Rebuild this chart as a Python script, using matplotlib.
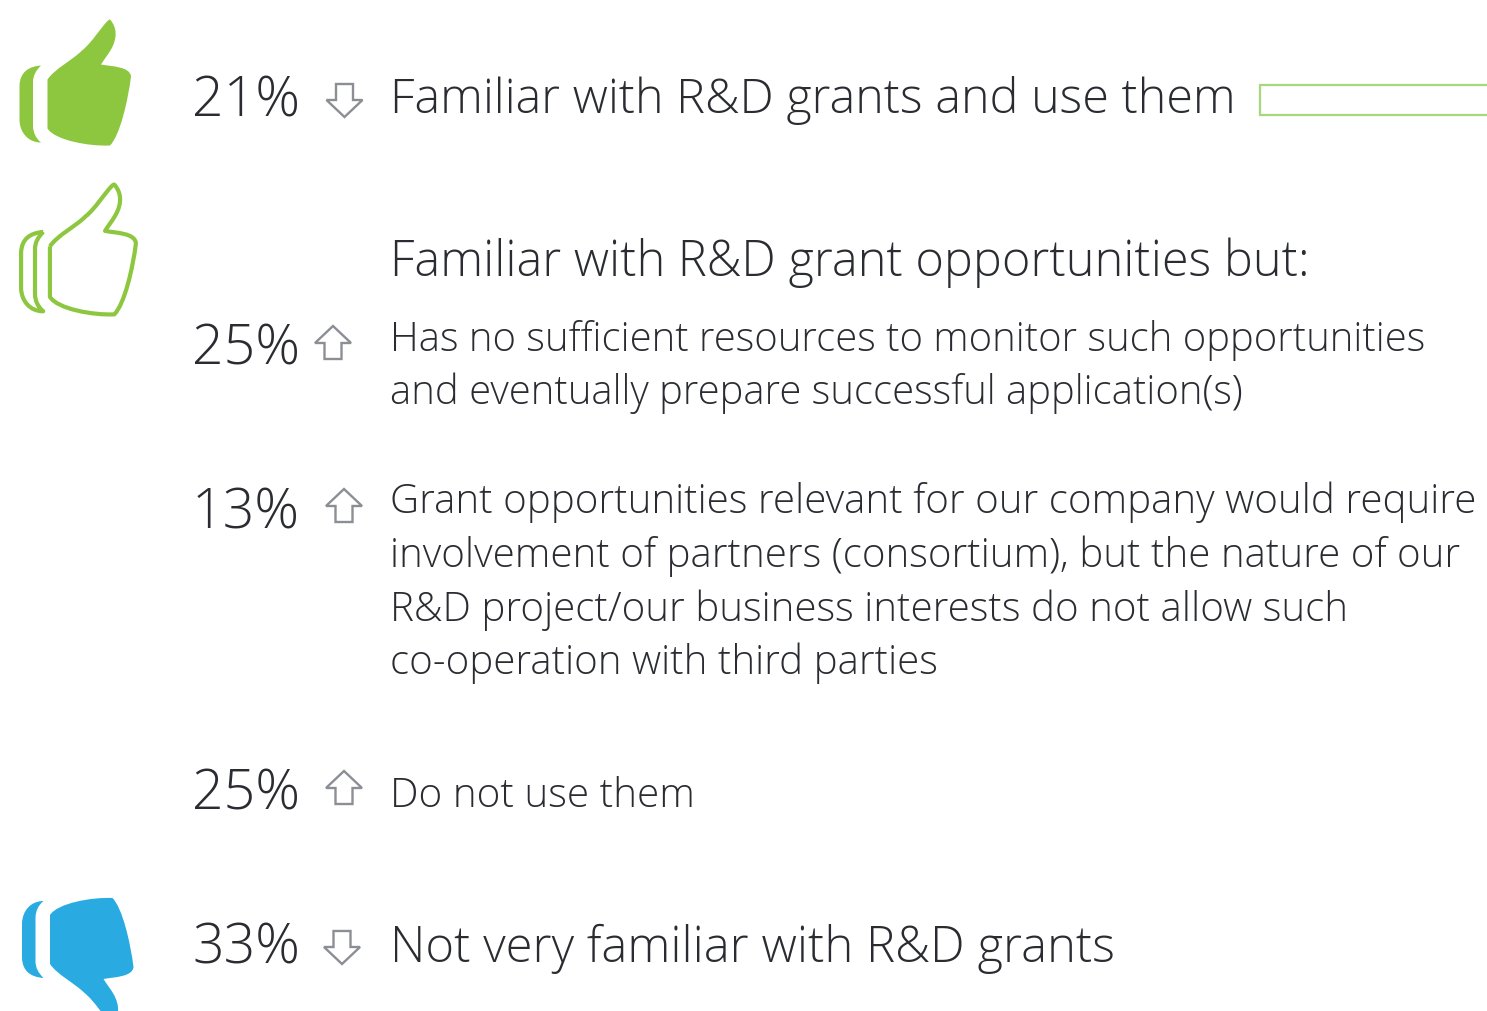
#!/usr/bin/env python3
"""Share of companies by familiarity with R&D grants, thumb icons and trend arrows."""

import matplotlib
matplotlib.use("Agg")
import matplotlib.pyplot as plt
from matplotlib.patches import PathPatch, Polygon, Rectangle
from matplotlib.path import Path
from matplotlib.transforms import Affine2D

GREEN = "#8dc73f"
BLUE = "#29abe2"
TEXT = "#2a2c31"
GREY = "#8b8e94"

percents = ["21%", "25%", "13%", "25%", "33%"]
trends = ["down", "up", "up", "up", "down"]
labels = [
    "Familiar with R&D grants and use them",
    "Has no sufficient resources to monitor such opportunities\nand eventually prepare successful application(s)",
    "Grant opportunities relevant for our company would require\ninvolvement of partners (consortium), but the nature of our\nR&D project/our business interests do not allow such\nco-operation with third parties",
    "Do not use them",
    "Not very familiar with R&D grants",
]
heading = "Familiar with R&D grant opportunities but:"

# layout in picture pixels
pct_y = [102, 350, 514, 795, 949]
arrow_xy = [(344.5, 100), (333, 345), (344, 508), (344, 790), (342, 947)]
label_y = [100, 367, 583, 797, 949]
label_size = [34.9, 28.8, 29, 29.1, 35.2]

MAIN = Path(
    [(47.5, 79), (55, 68), (72, 60), (82, 50), (92, 42), (100, 28), (108, 20),
     (109, 19), (110, 19), (110, 19),
     (118, 28), (116, 38), (113, 45), (110, 52), (104, 59), (101, 64),
     (112, 66), (130, 66), (131, 76), (128, 100), (120, 135), (110, 145),
     (90, 146), (55, 140), (47.5, 128), (47.5, 79)],
    [Path.MOVETO] + [Path.CURVE4] * 9 + [Path.CURVE4] * 6 + [Path.CURVE4] * 6
    + [Path.CURVE4] * 3 + [Path.LINETO],
)
CUFF = Path(
    [(41, 65), (28, 66), (20, 72), (19.5, 85), (19.5, 120), (20, 132), (28, 142),
     (41, 142), (36, 138), (33, 132), (33, 125), (33, 82), (33, 75), (36, 70), (41, 65)],
    [Path.MOVETO, Path.CURVE4, Path.CURVE4, Path.CURVE4, Path.LINETO, Path.CURVE4,
     Path.CURVE4, Path.CURVE4, Path.CURVE4, Path.CURVE4, Path.CURVE4, Path.LINETO,
     Path.CURVE4, Path.CURVE4, Path.CURVE4],
)


def draw_thumb(ax, tr, face, edge, lw=0):
    for p in (MAIN, CUFF):
        ax.add_patch(PathPatch(p.transformed(tr), facecolor=face, edgecolor=edge,
                               linewidth=lw, joinstyle="round"))


def draw_arrow(ax, cx, cy, direction):
    # block arrow outline, drawn pointing down then flipped when needed
    s = 1 if direction == "down" else -1
    pts = [(-8.5, -15), (8.5, -15), (8.5, 1), (18, 1), (0, 18), (-18, 1), (-8.5, 1)]
    ax.add_patch(Polygon([(cx + x, cy + s * y) for x, y in pts], closed=True,
                         facecolor="white", edgecolor=GREY, linewidth=1.7, joinstyle="miter"))


def main():
    plt.rcParams["font.family"] = ["Open Sans", "DejaVu Sans"]
    fig = plt.figure(figsize=(14.87, 10.12), dpi=100)
    ax = fig.add_axes([0, 0, 1, 1])
    ax.set_xlim(0, 1487)
    ax.set_ylim(1012, 0)
    ax.axis("off")

    draw_thumb(ax, Affine2D().translate(0, 1.5), GREEN, "none")
    draw_thumb(ax, Affine2D().scale(1.03).translate(1, 166), "white", GREEN, lw=3)
    draw_thumb(ax, Affine2D().scale(1, -1).translate(2.5, 1044), BLUE, "none")

    for pct, y in zip(percents, pct_y):
        ax.text(192, y, pct, fontsize=40, color=TEXT, va="center", ha="left", fontweight="light")
    for (x, y), t in zip(arrow_xy, trends):
        draw_arrow(ax, x, y, t)
    for lab, y, size in zip(labels, label_y, label_size):
        ax.text(389.5, y, lab, fontsize=size, color=TEXT, va="center", ha="left",
                linespacing=1.39, fontweight="light")
    ax.text(389.5, 263, heading, fontsize=35, color=TEXT, va="center", ha="left", fontweight="light")

    # bar runs off the right edge of the picture
    ax.add_patch(Rectangle((1259.5, 86), 300, 30, facecolor="white", edgecolor="#a9d77c", linewidth=1.6))

    fig.savefig("out.png", dpi=100)


if __name__ == "__main__":
    main()
